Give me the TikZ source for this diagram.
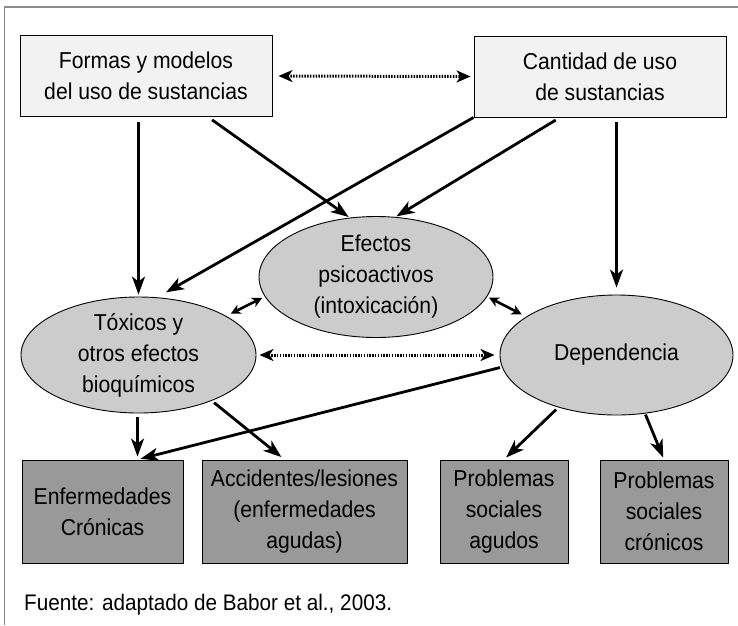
\documentclass[tikz,border=0pt]{standalone}
\usepackage{fontspec}
\setmainfont[FakeStretch=0.92]{Liberation Sans}
\usetikzlibrary{arrows.meta,shapes.geometric}
\definecolor{topfill}{HTML}{F2F2F2}
\definecolor{ellfill}{HTML}{CCCCCC}
\definecolor{botfill}{HTML}{999999}
\definecolor{framecol}{HTML}{8C8C8C}
\tikzset{
  lbl/.style={font=\fontsize{23}{31}\selectfont, align=center, inner sep=0pt},
  topbox/.style={draw=black, line width=0.9pt, fill=topfill, minimum width=252pt, minimum height=81pt, inner sep=0pt},
  botbox/.style={draw=black, line width=0.9pt, fill=botfill, minimum height=103pt, inner sep=0pt},
  ellnode/.style={ellipse, draw=black, line width=0.9pt, fill=ellfill, inner sep=0pt},
  arr/.style={line width=2.8pt, -{Stealth[length=18pt, width=13pt, inset=5pt]}},
  dbl/.style={line width=2.6pt, {Stealth[length=10pt, width=10pt, inset=3pt]}-{Stealth[length=10pt, width=10pt, inset=3pt]}},
  dotarr/.style={line width=3pt, dash pattern=on 1.5pt off 1.3pt, {Stealth[length=14pt, width=12pt, inset=4pt]}-{Stealth[length=14pt, width=12pt, inset=4pt]}},
}
\begin{document}
\begin{tikzpicture}[x=1pt, y=-1pt]
\useasboundingbox (0,0) rectangle (738,625);
% frame
\draw[framecol, line width=1.2pt] (4.5,625) -- (4.5,7) -- (738,7);

% top boxes
\node[topbox, lbl] (formas) at (146,76) {Formas y modelos\\del uso de sustancias};
\node[topbox, lbl] (cantidad) at (600,76.5) {Cantidad de uso\\de sustancias};

% ellipses
\node[ellnode, minimum width=234pt, minimum height=121pt] (efectos) at (376,277) {};
\node[lbl] (efectostxt) at (efectos) {Efectos\\psicoactivos\\(intoxicación)};
\node[ellnode, minimum width=235pt, minimum height=116pt] (tox) at (138.5,355) {};
\node[lbl] (toxtxt) at (tox) {Tóxicos y\\otros efectos\\bioquímicos};
\node[ellnode, minimum width=233pt, minimum height=120pt] (dep) at (616.5,355) {};
\node[lbl] (deptxt) at (dep) {Dependencia};

% bottom boxes
\node[botbox, lbl, minimum width=161pt] (enf) at (102.5,511.5) {Enfermedades\\Crónicas};
\node[botbox, lbl, minimum width=205pt] (acc) at (304.5,511.5) {Accidentes/lesiones\\(enfermedades\\agudas)};
\node[botbox, lbl, minimum width=128pt] (pagu) at (504,511.5) {Problemas\\sociales\\agudos};
\node[botbox, lbl, minimum width=128pt] (pcro) at (664,511.5) {Problemas\\sociales\\crónicos};

% footer
\node[anchor=west, inner sep=0pt, font=\fontsize{22.5}{26}\selectfont] (fuente) at (24,605) {Fuente: adaptado de Babor et al., 2003.};

% connectors
\draw[dotarr, shorten <=6pt, shorten >=3pt] (formas.east) -- (cantidad.west);
\draw[arr, shorten <=5pt, shorten >=2pt] (formas.south -| tox.north) -- (tox.north);
\draw[arr, shorten <=5pt, shorten >=1pt] ([xshift=62pt]formas.south) -- (efectos.114);
\draw[arr, shorten >=10pt] (cantidad.south west) -- (tox.72);
\draw[arr, shorten <=5pt, shorten >=1pt] ([xshift=-40pt]cantidad.south) -- (efectos.72);
\draw[arr, shorten <=5pt, shorten >=7pt] (cantidad.south -| dep.north) -- (dep.north);
\draw[dbl, shorten <=5pt, shorten >=3pt] (tox.24) -- (efectos.190);
\draw[dbl, shorten <=2pt, shorten >=5pt] (efectos.-10) -- (dep.157);
\draw[dotarr, shorten <=3pt, shorten >=5pt] (tox.east) -- (dep.west);
\draw[arr, shorten <=2pt, shorten >=3pt] (dep.186) -- ([xshift=35pt]enf.north);
\draw[arr, shorten <=4pt, shorten >=3pt] ([xshift=35pt]enf.north |- tox.south) -- ([xshift=35pt]enf.north);
\draw[arr, shorten <=3pt, shorten >=4pt] (tox.-32) -- ([xshift=-20pt]acc.north);
\draw[arr, shorten <=3pt, shorten >=3pt] (dep.222) -- (pagu.north);
\draw[arr, shorten <=1pt, shorten >=2pt] (dep.-64) -- (pcro.north);
\end{tikzpicture}
\end{document}
